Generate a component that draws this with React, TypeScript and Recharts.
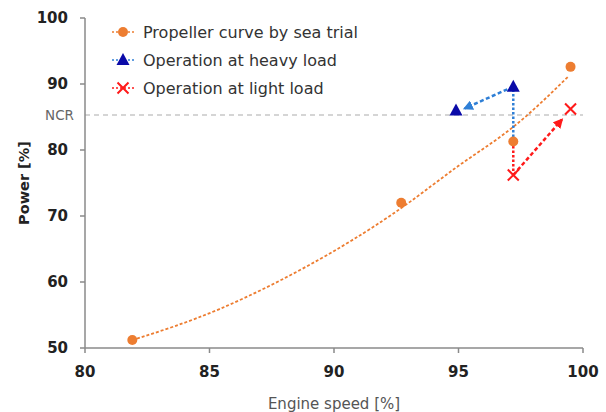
import { ComposedChart, Line, XAxis, YAxis, ReferenceLine, Label } from 'recharts';

const xTicks = [80, 85, 90, 95, 100];
const yTicks = [50, 60, 70, 80, 90, 100];
const NCR = 85.3;

const seaTrial = [
  { x: 81.9, y: 51.2 },
  { x: 92.7, y: 72.0 },
  { x: 97.2, y: 81.3 },
  { x: 99.5, y: 92.6 },
];
// fitted trend line as drawn in the source
const trend = [
  { x: 81.9, y: 51.2 },
  { x: 85.4, y: 55.9 },
  { x: 89.4, y: 63.4 },
  { x: 92.7, y: 71.2 },
  { x: 95.0, y: 77.6 },
  { x: 97.2, y: 83.5 },
  { x: 99.4, y: 91.1 },
];

const heavyDrop = [{ x: 97.2, y: 81.3 }, { x: 97.2, y: 89.6 }];
const heavyArrow = [{ x: 97.2, y: 89.6 }, { x: 95.25, y: 86.3 }];
const heavyPoints = [{ x: 97.2, y: 89.6 }, { x: 94.9, y: 86.0 }];

const lightDrop = [{ x: 97.2, y: 81.3 }, { x: 97.2, y: 76.2 }];
const lightArrow = [{ x: 97.2, y: 76.2 }, { x: 99.15, y: 84.6 }];
const lightPoints = [{ x: 97.2, y: 76.2 }, { x: 99.5, y: 86.2 }];

const ORANGE = '#ED7D31';
const NAVY = '#0A0AA8';
const BLUE = '#2F7FD6';
const RED = '#FF1A1A';
const FONT = '"DejaVu Sans", "Noto Sans", sans-serif';

const legendItems = [
  { name: 'Propeller curve by sea trial', color: ORANGE, marker: 'circle' },
  { name: 'Operation at heavy load', color: BLUE, marker: 'triangle' },
  { name: 'Operation at light load', color: RED, marker: 'cross' },
];

function Marker({ kind, cx, cy, color }: { kind: string; cx: number; cy: number; color: string }) {
  if (kind === 'circle') return <circle cx={cx} cy={cy} r={5} fill={color} />;
  if (kind === 'triangle')
    return <path d={`M${cx},${cy - 7} L${cx + 6.5},${cy + 5} L${cx - 6.5},${cy + 5} Z`} fill={NAVY} />;
  return (
    <path
      d={`M${cx - 5.5},${cy - 5.5} L${cx + 5.5},${cy + 5.5} M${cx + 5.5},${cy - 5.5} L${cx - 5.5},${cy + 5.5}`}
      stroke={color}
      strokeWidth={2}
    />
  );
}

const dotOf = (kind: string, color: string) => (p: any) =>
  <Marker key={`${kind}-${p.index}`} kind={kind} cx={p.cx} cy={p.cy} color={color} />;

function LegendBox() {
  return (
    <div style={{ position: 'absolute', left: 110, top: 18, fontFamily: FONT, fontSize: 16, color: '#333' }}>
      {legendItems.map(it => (
        <div key={it.name} style={{ display: 'flex', alignItems: 'center', height: 28 }}>
          <svg width={33} height={16}>
            <line x1={2} y1={8} x2={24} y2={8} stroke={it.color} strokeWidth={1.5} strokeDasharray="2 2" />
            <Marker kind={it.marker} cx={13} cy={8} color={it.color} />
          </svg>
          <span>{it.name}</span>
        </div>
      ))}
    </div>
  );
}

export default function App() {
  return (
    <div style={{ position: 'absolute', left: 0, top: 0, width: 606, height: 412, background: '#fff' }}>
      <svg width={0} height={0} style={{ position: 'absolute' }}>
        <defs>
          <marker id="arrBlue" viewBox="0 0 10 10" refX={8} refY={5} markerWidth={4} markerHeight={4} orient="auto">
            <path d="M0,0 L10,5 L0,10 Z" fill={BLUE} stroke="none" />
          </marker>
          <marker id="arrRed" viewBox="0 0 10 10" refX={8} refY={5} markerWidth={4} markerHeight={4} orient="auto">
            <path d="M0,0 L10,5 L0,10 Z" fill={RED} stroke="none" />
          </marker>
        </defs>
      </svg>
      <ComposedChart width={606} height={412} margin={{ top: 18, right: 23, bottom: 0, left: 0 }}>
        <XAxis
          type="number"
          dataKey="x"
          domain={[80, 100]}
          ticks={xTicks}
          height={64}
          axisLine={{ stroke: '#8a8a8a', strokeWidth: 1.5 }}
          tickLine={{ stroke: '#8a8a8a', strokeWidth: 1.5 }}
          tickSize={5}
          tickMargin={13}
          tick={{ fontSize: 15, fontWeight: 700, fill: '#222', fontFamily: FONT }}
        >
          <Label
            content={({ viewBox }: any) => (
              <text x={viewBox.x + viewBox.width / 2} y={409} textAnchor="middle" fontSize={15} fill="#555" fontFamily={FONT}>
                Engine speed [%]
              </text>
            )}
          />
        </XAxis>
        <YAxis
          type="number"
          dataKey="y"
          domain={[50, 100]}
          ticks={yTicks}
          width={85}
          axisLine={{ stroke: '#8a8a8a', strokeWidth: 1.5 }}
          tickLine={{ stroke: '#8a8a8a', strokeWidth: 1.5 }}
          tickSize={5}
          tickMargin={12}
          tick={{ fontSize: 15, fontWeight: 700, fill: '#222', fontFamily: FONT }}
        >
          <Label
            content={({ viewBox }: any) => {
              const cy = viewBox.y + viewBox.height / 2;
              return (
                <text x={29} y={cy} transform={`rotate(-90, 29, ${cy})`} textAnchor="middle" fontSize={14.5} fontWeight={700} fill="#222" fontFamily={FONT}>
                  Power [%]
                </text>
              );
            }}
          />
        </YAxis>
        <ReferenceLine
          y={NCR}
          stroke="#c8c8c8"
          strokeWidth={1.5}
          strokeDasharray="5 4"
          label={{ value: 'NCR', position: 'left', offset: 11, fontSize: 13.5, fill: '#666', fontFamily: FONT }}
        />
        <Line data={trend} dataKey="y" type="natural" stroke={ORANGE} strokeWidth={1.8} strokeDasharray="3 2" dot={false} isAnimationActive={false} legendType="none" />
        <Line data={heavyDrop} dataKey="y" type="linear" stroke={BLUE} strokeWidth={2.5} strokeDasharray="2.5 2" dot={false} isAnimationActive={false} legendType="none" />
        <Line data={lightDrop} dataKey="y" type="linear" stroke={RED} strokeWidth={2.5} strokeDasharray="2.5 2" dot={false} isAnimationActive={false} legendType="none" />
        <Line data={heavyArrow} dataKey="y" type="linear" stroke={BLUE} strokeWidth={2.5} strokeDasharray="4 2.5" markerEnd="url(#arrBlue)" dot={false} isAnimationActive={false} legendType="none" />
        <Line data={lightArrow} dataKey="y" type="linear" stroke={RED} strokeWidth={2.5} strokeDasharray="4 2.5" markerEnd="url(#arrRed)" dot={false} isAnimationActive={false} legendType="none" />
        <Line data={seaTrial} dataKey="y" stroke="none" dot={dotOf('circle', ORANGE)} activeDot={false} isAnimationActive={false} legendType="none" />
        <Line data={heavyPoints} dataKey="y" stroke="none" dot={dotOf('triangle', NAVY)} activeDot={false} isAnimationActive={false} legendType="none" />
        <Line data={lightPoints} dataKey="y" stroke="none" dot={dotOf('cross', RED)} activeDot={false} isAnimationActive={false} legendType="none" />
      </ComposedChart>
      <LegendBox />
    </div>
  );
}
